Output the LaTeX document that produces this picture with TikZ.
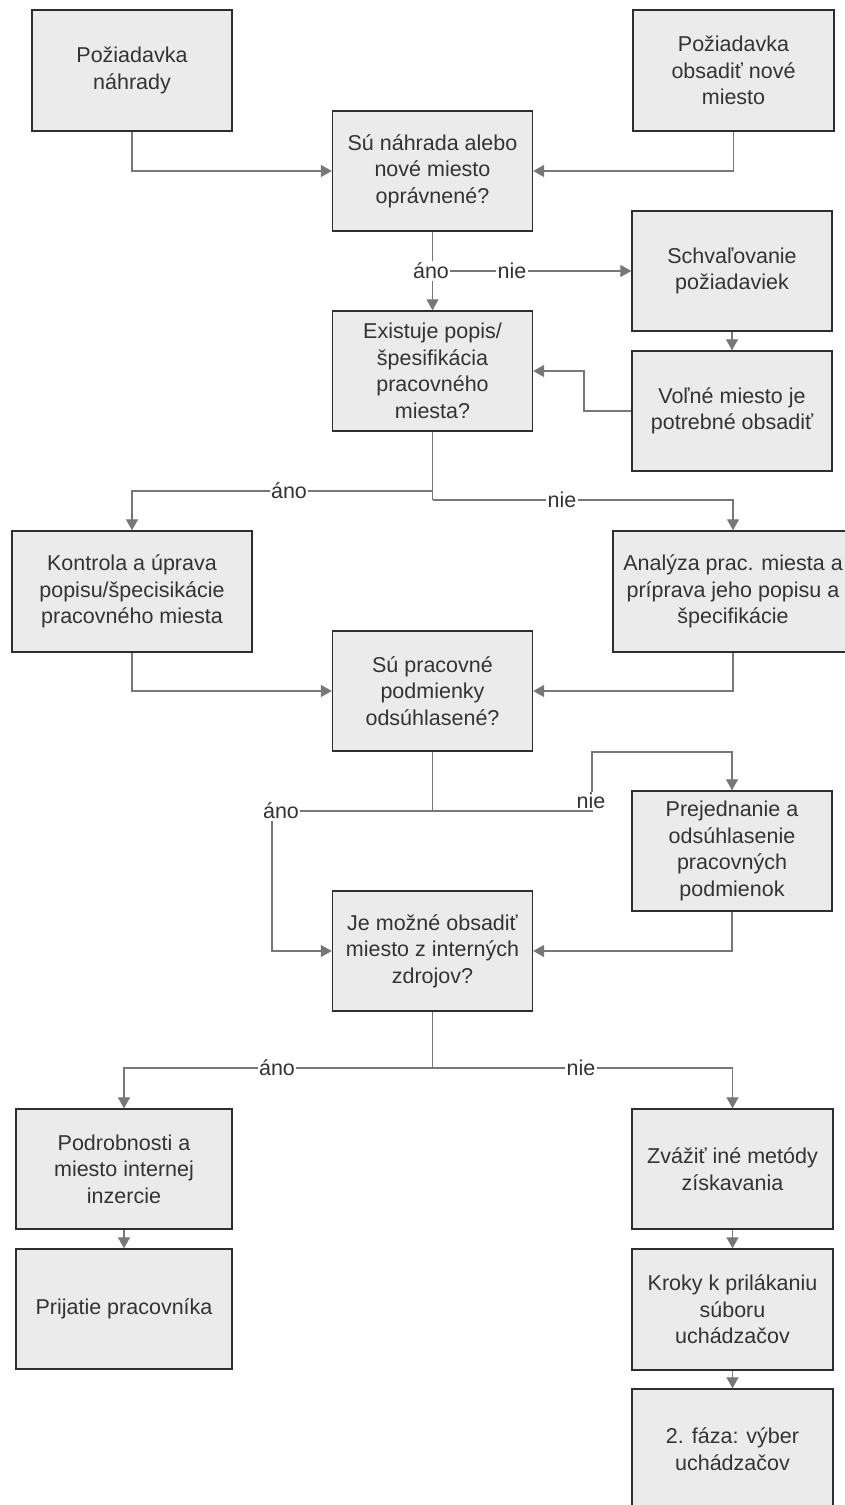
\documentclass[tikz,border=0pt]{standalone}
\usepackage{fontspec}
\setmainfont{Liberation Sans}
\usetikzlibrary{arrows.meta}
\definecolor{boxfill}{HTML}{EBEBEB}
\definecolor{boxline}{HTML}{2E2E2E}
\definecolor{conncol}{HTML}{777777}
\definecolor{txtcol}{HTML}{333333}
\tikzset{
  stepbox/.style={draw=boxline, line width=1.4pt, fill=boxfill, rectangle,
    minimum width=200pt, minimum height=120pt, align=center, text=txtcol,
    inner sep=2pt, font=\fontsize{21.5}{26.5}\selectfont},
  conn/.style={draw=conncol, line width=1.3pt, -{Triangle[length=11pt,width=12pt]}},
  plainconn/.style={draw=conncol, line width=1.3pt},
  lab/.style={fill=white, text=txtcol, inner sep=1.5pt, font=\fontsize{21.5}{24}\selectfont}
}
\begin{document}
\begin{tikzpicture}[x=1pt,y=-1pt]
\useasboundingbox (0,0) rectangle (845,1505);
\clip (0,0) rectangle (845,1505);
\fill[white] (0,0) rectangle (845,1505);

% boxes
\node[stepbox, minimum height=121pt] (A) at (132,70.5) {Požiadavka\\náhrady};
\node[stepbox, minimum width=201pt, minimum height=121pt] (B) at (733.5,70.5) {Požiadavka\\obsadiť nové\\miesto};
\node[stepbox] (C) at (432.5,171) {Sú náhrada alebo\\nové miesto\\oprávnené?};
\node[stepbox] (S) at (732,271) {Schvaľovanie\\požiadaviek};
\node[stepbox] (V) at (732,411) {Voľné miesto je\\potrebné obsadiť};
\node[stepbox] (D) at (432.5,371) {Existuje popis/\\špesifikácia\\pracovného\\miesta?};
\node[stepbox, minimum width=240pt, minimum height=121pt] (E) at (132,591.5) {Kontrola a úprava\\popisu/špecisikácie\\pracovného miesta};
\node[stepbox, minimum width=240pt, minimum height=121pt] (F) at (733,591.5) {Analýza prac. miesta a\\príprava jeho popisu a\\špecifikácie};
\node[stepbox] (G) at (432.5,691) {Sú pracovné\\podmienky\\odsúhlasené?};
\node[stepbox] (H) at (732,851) {Prejednanie a\\odsúhlasenie\\pracovných\\podmienok};
\node[stepbox] (I) at (432.5,951) {Je možné obsadiť\\miesto z interných\\zdrojov?};
\node[stepbox, minimum width=216pt] (J) at (124,1169) {Podrobnosti a\\miesto internej\\inzercie};
\node[stepbox, minimum width=216pt] (L) at (124,1309) {Prijatie pracovníka};
\node[stepbox, minimum width=201pt] (K) at (732.5,1169) {Zvážiť iné metódy\\získavania};
\node[stepbox, minimum width=201pt, minimum height=121pt] (M) at (732.5,1309.5) {Kroky k prilákaniu\\súboru\\uchádzačov};
\node[stepbox, minimum width=201pt] (N) at (732.5,1449) {2. fáza: výber\\uchádzačov};

% helper coordinates
\coordinate (cBr) at (432.5,271);
\coordinate (vK) at (584,411);
\coordinate (dY) at (432.5,491);
\coordinate (dN) at (432.5,500);
\coordinate (gA) at (272,811);
\coordinate (gN) at (592,811);
\coordinate (gNt) at (592,752);
\coordinate (iY) at (432.5,1068);

% top inputs
\draw[conn] (A.south) |- (C.west);
\draw[conn] (B.south) |- (C.east);

% C branches
\draw[conn] (cBr) -- (S.west);
\draw[conn] (C.south) -- (D.north);
\draw[conn] (S.south) -- (V.north);
\draw[conn] (V.west) -- (vK) |- (D.east);

% D branches
\draw[plainconn] (D.south) -- (dN);
\draw[conn] (dY) -| (E.north);
\draw[conn] (dN) -| (F.north);
\draw[conn] (E.south) |- (G.west);
\draw[conn] (F.south) |- (G.east);

% G branches
\draw[conn] (G.south) |- (gA) |- (I.west);
\draw[conn] (G.south) |- (gN) -- (gNt) -| (H.north);
\draw[conn] (H.south) |- (I.east);

% I branches
\draw[plainconn] (I.south) -- (iY);
\draw[conn] (iY) -| (J.north);
\draw[conn] (iY) -| (K.north);
\draw[conn] (J.south) -- (L.north);
\draw[conn] (K.south) -- (M.north);
\draw[conn] (M.south) -- (N.north);

% labels
\node[lab] (l1) at (512,271) {nie};
\node[lab] (l2) at (431,271) {áno};
\node[lab] (l3) at (289,491) {áno};
\node[lab] (l4) at (562,500) {nie};
\node[lab] (l5) at (281,811) {áno};
\node[lab] (l6) at (591,801) {nie};
\node[lab] (l7) at (277,1068) {áno};
\node[lab] (l8) at (581,1068) {nie};
\end{tikzpicture}
\end{document}
